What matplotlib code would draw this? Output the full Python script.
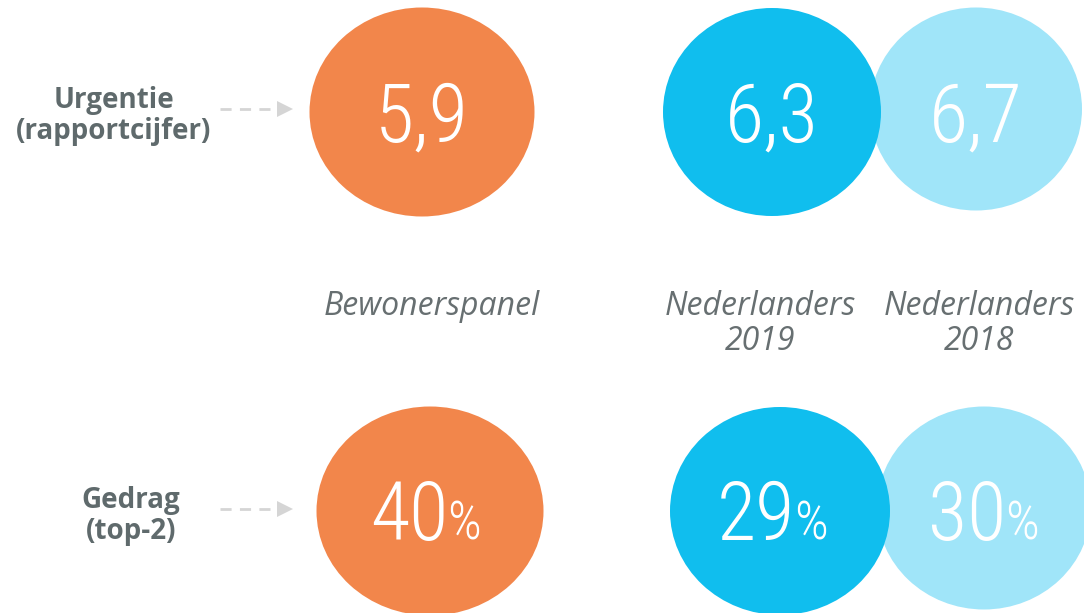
import matplotlib.pyplot as plt
from matplotlib.patches import Ellipse

# data
groups = ["Bewonerspanel", "Nederlanders\n2019", "Nederlanders\n2018"]
colors = ["#F2864B", "#10BEEE", "#A0E5F9"]
metrics = ["Urgentie\n(rapportcijfer)", "Gedrag\n(top-2)"]
urgentie = ["5,9", "6,3", "6,7"]
gedrag = ["40", "29", "30"]

W, H = 1084, 613
fig = plt.figure(figsize=(W / 100, H / 100), dpi=100)
ax = fig.add_axes([0, 0, 1, 1])
ax.set_xlim(0, W)
ax.set_ylim(H, 0)
ax.axis("off")

# layout in pixels
cx_top = [422, 772, 976]
cy_top = [112, 112, 109]
cx_bot = [430, 780, 984]
cy_bot = [511, 511, 508]
widths = [225, 218, 212]
heights = [209, 208, 203]

num_font = ["Roboto Condensed", "Liberation Sans Narrow", "Open Sans", "DejaVu Sans"]
gray = "#5f6a6c"

# light blue first so the darker blue overlaps it
for order in [2, 1, 0]:
    ax.add_patch(Ellipse((cx_top[order], cy_top[order]), widths[order], heights[order],
                         color=colors[order], lw=0))
    ax.add_patch(Ellipse((cx_bot[order], cy_bot[order]), widths[order] + 2, heights[order],
                         color=colors[order], lw=0))

pct_off = [18, 15, 22]
for i in range(3):
    ax.text(cx_top[i], 141, urgentie[i], color="white", fontsize=58,
            family=num_font, fontweight="light", ha="center", va="baseline")
    ax.text(cx_bot[i] + pct_off[i], 540, gedrag[i], color="white", fontsize=58,
            family=num_font, fontweight="light", ha="right", va="baseline")
    ax.text(cx_bot[i] + pct_off[i] - 1, 540, "%", color="white", fontsize=38,
            family=num_font, fontweight="light", ha="left", va="baseline")

label_x = [432, 760, 979]
for i in range(3):
    ax.text(label_x[i], 290, groups[i], color="#676f71", fontsize=23, style="italic",
            family=["Open Sans", "DejaVu Sans"], ha="center", va="top",
            linespacing=1.06)

# left labels and dashed arrows
for lbl, x, y in zip(metrics, [114, 131], [116, 516]):
    ax.text(x, y, lbl, color=gray, fontsize=20, fontweight="bold",
            family=["Open Sans", "DejaVu Sans"], ha="center", va="center", linespacing=1.1)
    ax.plot([220, 272], [y - 7, y - 7], color="#d5d5d5", lw=2, ls=(0, (4, 3)))
    ax.plot([285], [y - 7], marker=">", color="#d5d5d5", ms=12, mew=0)

fig.savefig("out.png", dpi=100)
